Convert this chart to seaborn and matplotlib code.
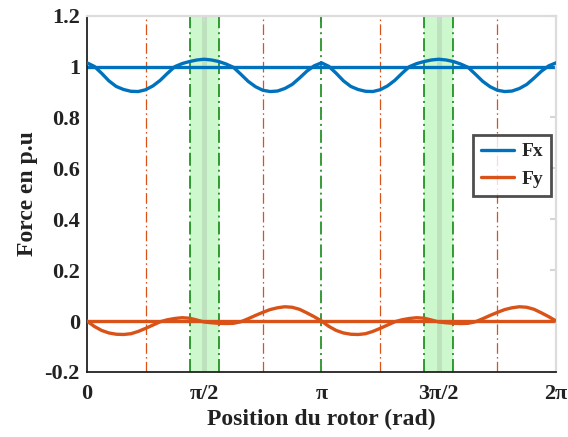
import numpy as np
import pandas as pd
import seaborn as sns
import matplotlib.pyplot as plt

# values (step pi/32 over 0..2pi)
fx = [1.015, 1.001, 0.974, 0.944, 0.922, 0.910, 0.903, 0.902, 0.909, 0.924, 0.946,
      0.974, 1.000, 1.012, 1.020, 1.026, 1.029, 1.026, 1.020, 1.010, 0.997, 0.970,
      0.942, 0.921, 0.907, 0.902, 0.904, 0.914, 0.930, 0.955, 0.982, 1.003, 1.015,
      1.001, 0.974, 0.944, 0.922, 0.910, 0.903, 0.902, 0.909, 0.924, 0.946, 0.974,
      1.000, 1.012, 1.020, 1.026, 1.029, 1.026, 1.020, 1.010, 0.997, 0.970, 0.942,
      0.921, 0.907, 0.902, 0.904, 0.914, 0.930, 0.955, 0.982, 1.003, 1.015]
fy = [0.0, -0.021, -0.037, -0.047, -0.052, -0.053, -0.050, -0.041, -0.029, -0.016,
      -0.003, 0.005, 0.010, 0.013, 0.011, 0.004, -0.004, -0.007, -0.009, -0.010,
      -0.009, -0.003, 0.009, 0.022, 0.034, 0.045, 0.052, 0.056, 0.054, 0.046, 0.032,
      0.017, 0.0, -0.021, -0.037, -0.047, -0.052, -0.053, -0.050, -0.041, -0.029,
      -0.016, -0.003, 0.005, 0.010, 0.013, 0.011, 0.004, -0.004, -0.007, -0.009,
      -0.010, -0.009, -0.003, 0.009, 0.022, 0.034, 0.045, 0.052, 0.056, 0.054,
      0.046, 0.032, 0.017, 0.0]
fx_mean = 1.0
fy_mean = 0.0

theta = np.linspace(0, 2 * np.pi, len(fx))
orange_marks = [np.pi / 4, 3 * np.pi / 4, 5 * np.pi / 4, 7 * np.pi / 4]
green_marks = [7 * np.pi / 16, 9 * np.pi / 16, np.pi, 23 * np.pi / 16, 25 * np.pi / 16]
bands = [(7 * np.pi / 16, 9 * np.pi / 16), (23 * np.pi / 16, 25 * np.pi / 16)]
xticks = [0, np.pi / 2, np.pi, 3 * np.pi / 2, 2 * np.pi]
xticklabels = ['0', 'π/2', 'π', '3π/2', '2π']
yticks = [-0.2, 0, 0.2, 0.4, 0.6, 0.8, 1, 1.2]
yticklabels = ['-0.2', '0', '0.2', '0.4', '0.6', '0.8', '1', '1.2']

blue = '#0072BD'
orange = '#D95319'

sns.set_style('white')
plt.rcParams['font.family'] = ['Liberation Serif', 'DejaVu Serif']
plt.rcParams['font.weight'] = 'bold'

df = pd.DataFrame({'theta': theta, 'Fx': fx, 'Fy': fy})

fig = plt.figure(figsize=(5.68, 4.37), dpi=100)
ax = fig.add_axes([0.153, 0.149, 0.826, 0.815])

for a, b in bands:
    ax.axvspan(a, b, color='#cdf7cd', lw=0, zorder=0)
    ax.axvline((a + b) / 2, color='#bde0bd', lw=3.5, zorder=0.5)

dash = (0, (8.5, 2.6, 1.3, 2.6))
for m in orange_marks:
    ax.axvline(m, color=orange, lw=0.9, linestyle=dash, zorder=1)
for m in green_marks:
    ax.axvline(m, color='#008000', lw=1.1, linestyle=dash, zorder=1)

ax.axhline(fx_mean, color=blue, lw=2.4, zorder=2)
ax.axhline(fy_mean, color=orange, lw=2.4, zorder=2)
sns.lineplot(data=df, x='theta', y='Fx', ax=ax, color=blue, lw=2.4, label='Fx', zorder=3)
sns.lineplot(data=df, x='theta', y='Fy', ax=ax, color=orange, lw=2.4, label='Fy', zorder=3)

ax.set_xlim(0, 2 * np.pi)
ax.set_ylim(-0.2, 1.2)
ax.set_xticks(xticks)
ax.set_xticklabels(xticklabels)
ax.set_yticks(yticks)
ax.set_yticklabels(yticklabels)
ax.tick_params(direction='in', length=4, width=1.5, color='#d6d6d6',
               labelsize=16, labelcolor='#222222', top=True, right=True)
ax.tick_params(axis='x', pad=9)
ax.tick_params(axis='y', pad=5)
for lab in ax.get_xticklabels() + ax.get_yticklabels():
    lab.set_fontweight('bold')

for s in ['left', 'bottom']:
    ax.spines[s].set_color('#222222')
    ax.spines[s].set_linewidth(1.3)
for s in ['top', 'right']:
    ax.spines[s].set_color('#dcdcdc')
    ax.spines[s].set_linewidth(1.6)

ax.set_xlabel('Position du rotor (rad)', fontsize=17, fontweight='bold', color='#222222', labelpad=3)
ax.set_ylabel('Force en p.u', fontsize=17, fontweight='bold', color='#222222', labelpad=5)

leg = ax.legend(loc='upper right', bbox_to_anchor=(0.99, 0.665), fontsize=14,
                frameon=True, fancybox=False, handlelength=1.7, borderpad=0.4,
                labelspacing=0.5, handletextpad=0.4, borderaxespad=0)
leg.get_frame().set_edgecolor('#222222')
leg.get_frame().set_linewidth(2.0)
for t in leg.get_texts():
    t.set_fontweight('bold')

fig.savefig('out.png', dpi=100, facecolor='white')
